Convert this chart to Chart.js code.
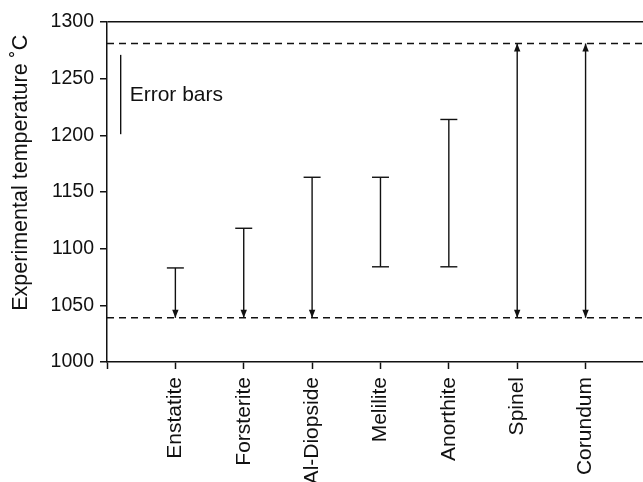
<!DOCTYPE html>
<html>
<head>
<meta charset="utf-8">
<script src="https://cdn.jsdelivr.net/npm/chart.js"></script>
<style>
  html, body { margin: 0; padding: 0; background: #fff; }
  #wrap { width: 643px; height: 482px; }
</style>
</head>
<body>
<div id="wrap"><canvas id="chart"></canvas></div>
<script>
// minerals along the x axis
const categories = ['Enstatite', 'Forsterite', 'Al-Diopside', 'Melilite', 'Anorthite', 'Spinel', 'Corundum'];
// temperature range for each mineral (deg C)
const upperTemps = [1083, 1118, 1163, 1163, 1214, 1281, 1281];
const lowerTemps = [1039, 1039, 1039, 1084, 1084, 1039, 1039];
// how each end is drawn: 'cap' or 'arrow'
const upperEnds = ['cap', 'cap', 'cap', 'cap', 'cap', 'arrow', 'arrow'];
const lowerEnds = ['arrow', 'arrow', 'arrow', 'cap', 'cap', 'arrow', 'arrow'];
// dashed experimental limits
const limitTemps = [1039, 1281];
// legend bar
const legendRange = [1201, 1271];
const legendLabel = 'Error bars';
const yTicks = [1000, 1050, 1100, 1150, 1200, 1250, 1300];
const yTitle = 'Experimental temperature ˚C';

const FONT = 'Liberation Sans, Arial, Helvetica, sans-serif';
const INK = '#111';
const X_MAX = 7.84;

const errorBarPlugin = {
  id: 'errorBars',
  afterDatasetsDraw(chart) {
    const { ctx, scales: { x, y } } = chart;
    ctx.save();
    ctx.strokeStyle = INK;
    ctx.fillStyle = INK;
    ctx.lineWidth = 1.4;

    const drawEnd = (px, py, type, dir) => {
      if (type === 'cap') {
        ctx.beginPath();
        ctx.moveTo(px - 8.5, py);
        ctx.lineTo(px + 8.5, py);
        ctx.stroke();
      } else {
        // arrow tip sits on the value, dir = -1 points up, +1 points down
        ctx.beginPath();
        ctx.moveTo(px, py);
        ctx.lineTo(px - 3.2, py - dir * 8);
        ctx.lineTo(px + 3.2, py - dir * 8);
        ctx.closePath();
        ctx.fill();
      }
    };

    categories.forEach((c, i) => {
      const px = x.getPixelForValue(i + 1);
      const top = y.getPixelForValue(upperTemps[i]);
      const bot = y.getPixelForValue(lowerTemps[i]);
      ctx.beginPath();
      ctx.moveTo(px, top);
      ctx.lineTo(px, bot);
      ctx.stroke();
      drawEnd(px, top, upperEnds[i], -1);
      drawEnd(px, bot, lowerEnds[i], 1);
    });

    // legend
    const lx = x.getPixelForValue(0.2);
    ctx.beginPath();
    ctx.moveTo(lx, y.getPixelForValue(legendRange[1]));
    ctx.lineTo(lx, y.getPixelForValue(legendRange[0]));
    ctx.stroke();
    ctx.font = '21px ' + FONT;
    ctx.textBaseline = 'middle';
    ctx.fillText(legendLabel, lx + 9, y.getPixelForValue((legendRange[0] + legendRange[1]) / 2) + 1);

    // y axis title, sits a little above the axis centre as in the source
    ctx.translate(21, y.getPixelForValue(1167));
    ctx.rotate(-Math.PI / 2);
    ctx.textAlign = 'center';
    ctx.font = '21.5px ' + FONT;
    ctx.fillText(yTitle, 0, 0);
    ctx.restore();
  }
};

const limitDatasets = limitTemps.map(t => ({
  type: 'line',
  data: [{ x: 0, y: t }, { x: X_MAX, y: t }],
  borderColor: INK,
  borderWidth: 1.4,
  borderDash: [7, 5],
  pointRadius: 0
}));

new Chart(document.getElementById('chart').getContext('2d'), {
  type: 'scatter',
  data: { datasets: limitDatasets },
  options: {
    responsive: true,
    maintainAspectRatio: false,
    animation: false,
    events: [],
    layout: { padding: { top: 22, right: 0, left: 0, bottom: 0 } },
    plugins: {
      legend: { display: false },
      tooltip: { enabled: false }
    },
    scales: {
      x: {
        type: 'linear',
        min: 0,
        max: X_MAX,
        afterFit: s => { s.height = 120; },
        border: { color: INK, width: 1.5 },
        grid: { drawOnChartArea: false, tickColor: INK, tickLength: 7, tickWidth: 1.5 },
        ticks: {
          stepSize: 1,
          includeBounds: false,
          autoSkip: false,
          minRotation: 90,
          maxRotation: 90,
          padding: 8,
          color: INK,
          font: { family: FONT, size: 21 },
          callback: v => categories[v - 1] || ''
        }
      },
      y: {
        min: yTicks[0],
        max: yTicks[yTicks.length - 1],
        afterFit: s => { s.width = 107; },
        border: { color: INK, width: 1.5 },
        grid: {
          color: c => c.tick && c.tick.value === yTicks[yTicks.length - 1] ? INK : 'rgba(0,0,0,0)',
          lineWidth: 1.5,
          tickColor: INK,
          tickLength: 7,
          tickWidth: 1.5
        },
        afterBuildTicks: s => { s.ticks = yTicks.map(v => ({ value: v })); },
        ticks: {
          padding: 6,
          color: INK,
          font: { family: FONT, size: 19.5 },
          callback: v => String(v)
        }
      }
    }
  },
  plugins: [errorBarPlugin]
});
</script>
</body>
</html>
